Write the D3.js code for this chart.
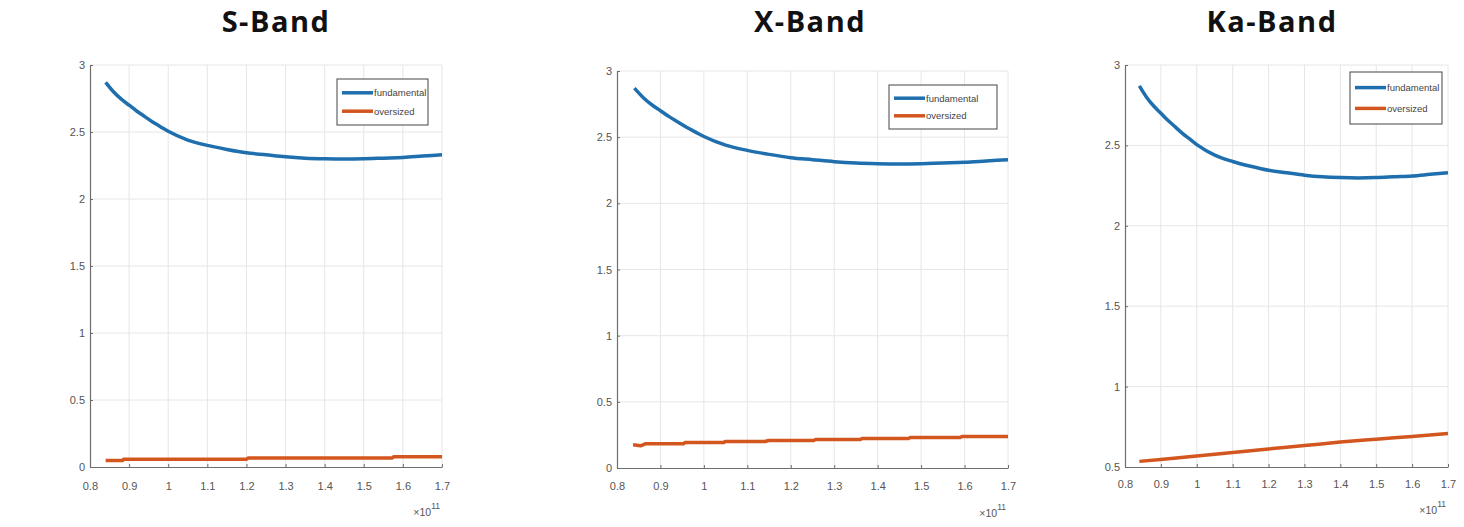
<!DOCTYPE html>
<html>
<head>
<meta charset="utf-8">
<script src="https://cdn.jsdelivr.net/npm/d3@7"></script>
<style>
  html, body { margin: 0; padding: 0; background: #fff; }
  svg { display: block; }
  .tick-label { font-family: "Liberation Sans Narrow", "Arial Narrow", "Liberation Sans", sans-serif; font-size: 11px; fill: #555; }
  .legend-label { font-family: "Liberation Sans Narrow", "Arial Narrow", "Liberation Sans", sans-serif; font-size: 9.5px; fill: #444; }
  .panel-title { font-family: "Open Sans", "DejaVu Sans", sans-serif; font-weight: bold; font-size: 29px; fill: #111; letter-spacing: 1.5px; }
</style>
</head>
<body>
<div id="chart"></div>
<script>
(function () {
    const width = 1464;
    const height = 527;

    const titles = ["S-Band", "X-Band", "Ka-Band"];
    const seriesNames = ["fundamental", "oversized"];
    const xTicks = [0.8, 0.9, 1, 1.1, 1.2, 1.3, 1.4, 1.5, 1.6, 1.7];
    const yTicksFull = [0, 0.5, 1, 1.5, 2, 2.5, 3];
    const yTicksKa = [0.5, 1, 1.5, 2, 2.5, 3];

    // frequency (x 1e11 Hz) and attenuation of the fundamental guide, same in all bands
    const fundFreq = [0.84, 0.86, 0.88, 0.90, 0.92, 0.94, 0.96, 0.98, 1.00, 1.05, 1.10, 1.15,
        1.20, 1.25, 1.30, 1.35, 1.40, 1.45, 1.50, 1.55, 1.60, 1.65, 1.70];
    const fundamental = [2.87, 2.80, 2.745, 2.70, 2.655, 2.615, 2.575, 2.54, 2.505, 2.44, 2.40, 2.37,
        2.345, 2.33, 2.315, 2.305, 2.30, 2.298, 2.30, 2.305, 2.31, 2.32, 2.33];

    // oversized guide, per band
    const sBandFreq = [0.84, 0.883, 0.886, 1.2, 1.205, 1.573, 1.577, 1.70];
    const sBandOversized = [0.048, 0.048, 0.058, 0.058, 0.068, 0.068, 0.077, 0.077];

    const xBandFreq = [0.837, 0.854, 0.865, 0.953, 0.957, 1.046, 1.049, 1.141, 1.149, 1.253, 1.257,
        1.36, 1.364, 1.471, 1.475, 1.59, 1.594, 1.70];
    const xBandOversized = [0.175, 0.168, 0.183, 0.183, 0.193, 0.193, 0.20, 0.20, 0.208, 0.208, 0.215,
        0.215, 0.223, 0.223, 0.23, 0.23, 0.2375, 0.2375];

    const kaBandFreq = [0.84, 0.9, 1.0, 1.1, 1.2, 1.3, 1.4, 1.5, 1.6, 1.7];
    const kaBandOversized = [0.535, 0.547, 0.569, 0.59, 0.612, 0.633, 0.655, 0.673, 0.69, 0.708];

    const blue = "#1f6fae";
    const orange = "#d4561f";

    const panels = [
        { left: 90, right: 442, top: 65, bottom: 467, yDomain: [0, 3], yTicks: yTicksFull,
          ox: sBandFreq, oy: sBandOversized, oCurve: d3.curveLinear, titleX: 276, labelY: 486, expY: 512,
          legend: { x: 337, y: 79, w: 91, h: 46 } },
        { left: 617, right: 1008, top: 71, bottom: 468, yDomain: [0, 3], yTicks: yTicksFull,
          ox: xBandFreq, oy: xBandOversized, oCurve: d3.curveLinear, titleX: 810, labelY: 486, expY: 513,
          legend: { x: 889, y: 85, w: 108, h: 44 } },
        { left: 1125, right: 1448, top: 65, bottom: 467, yDomain: [0.5, 3], yTicks: yTicksKa,
          ox: kaBandFreq, oy: kaBandOversized, oCurve: d3.curveMonotoneX, titleX: 1272, labelY: 484, expY: 510,
          legend: { x: 1350, y: 72, w: 92, h: 52 } }
    ];

    const svg = d3.select("#chart")
        .append("svg")
        .attr("width", width)
        .attr("height", height);

    panels.forEach((p, i) => {
        const x = d3.scaleLinear().domain([0.8, 1.7]).range([p.left, p.right]);
        const y = d3.scaleLinear().domain(p.yDomain).range([p.bottom, p.top]);
        const g = svg.append("g");

        // grid
        g.append("g").selectAll("line")
            .data(xTicks.slice(1))
            .join("line")
            .attr("x1", d => x(d)).attr("x2", d => x(d))
            .attr("y1", p.top).attr("y2", p.bottom)
            .attr("stroke", "#e6e6e6").attr("stroke-width", 1);
        g.append("g").selectAll("line")
            .data(p.yTicks.slice(1))
            .join("line")
            .attr("x1", p.left).attr("x2", p.right)
            .attr("y1", d => y(d)).attr("y2", d => y(d))
            .attr("stroke", "#e6e6e6").attr("stroke-width", 1);

        // axes, MATLAB style with inward ticks
        const xAxis = g.append("g")
            .attr("transform", `translate(0,${p.bottom})`)
            .call(d3.axisBottom(x).tickValues(xTicks).tickSizeInner(-3).tickSizeOuter(0).tickFormat(d3.format("~g")));
        const yAxis = g.append("g")
            .attr("transform", `translate(${p.left},0)`)
            .call(d3.axisLeft(y).tickValues(p.yTicks).tickSizeInner(-3).tickSizeOuter(0).tickFormat(d3.format("~g")));

        [xAxis, yAxis].forEach(a => {
            a.attr("font-family", null).attr("font-size", null);
            a.select(".domain").attr("stroke", "#6e6e6e").attr("stroke-width", 1.2);
            a.selectAll(".tick line").attr("stroke", "#6e6e6e");
            a.selectAll(".tick text")
                .attr("class", "tick-label")
                .attr("fill", null);
        });
        xAxis.selectAll(".tick text").attr("y", p.labelY - p.bottom - 4).attr("dy", "0.71em");
        yAxis.selectAll(".tick text").attr("x", -5);

        // x10^11 exponent label
        const exp = g.append("text")
            .attr("class", "tick-label")
            .attr("x", p.right - 2)
            .attr("y", p.expY + 4)
            .attr("text-anchor", "end");
        exp.append("tspan").text("\u00d710").style("font-size", "10.5px");
        exp.append("tspan").text("11").attr("dy", -7).style("font-size", "8.5px");

        // lines
        const fundLine = d3.line().x(d => x(d[0])).y(d => y(d[1])).curve(d3.curveMonotoneX);
        const overLine = d3.line().x(d => x(d[0])).y(d => y(d[1])).curve(p.oCurve);
        g.append("path")
            .datum(d3.zip(fundFreq, fundamental))
            .attr("fill", "none")
            .attr("stroke", blue)
            .attr("stroke-width", 3.5)
            .attr("stroke-linejoin", "round")
            .attr("d", fundLine);
        g.append("path")
            .datum(d3.zip(p.ox, p.oy))
            .attr("fill", "none")
            .attr("stroke", orange)
            .attr("stroke-width", 3.5)
            .attr("stroke-linejoin", "round")
            .attr("d", overLine);

        // legend
        const lg = g.append("g").attr("transform", `translate(${p.legend.x},${p.legend.y})`);
        lg.append("rect")
            .attr("width", p.legend.w)
            .attr("height", p.legend.h)
            .attr("fill", "#fff")
            .attr("stroke", "#444")
            .attr("stroke-width", 1);
        const rowGap = p.legend.h / 2.5;
        [blue, orange].forEach((c, k) => {
            const ry = p.legend.h / 2 + (k - 0.5) * rowGap;
            lg.append("line")
                .attr("x1", 5).attr("x2", 36)
                .attr("y1", ry).attr("y2", ry)
                .attr("stroke", c).attr("stroke-width", 3.5);
            lg.append("text")
                .attr("class", "legend-label")
                .attr("x", 37)
                .attr("y", ry)
                .attr("dy", "0.35em")
                .text(seriesNames[k]);
        });

        // title (kept fully inside the picture)
        svg.append("text")
            .attr("class", "panel-title")
            .attr("x", p.titleX)
            .attr("y", 32)
            .attr("text-anchor", "middle")
            .text(titles[i]);
    });
})();
</script>
</body>
</html>
